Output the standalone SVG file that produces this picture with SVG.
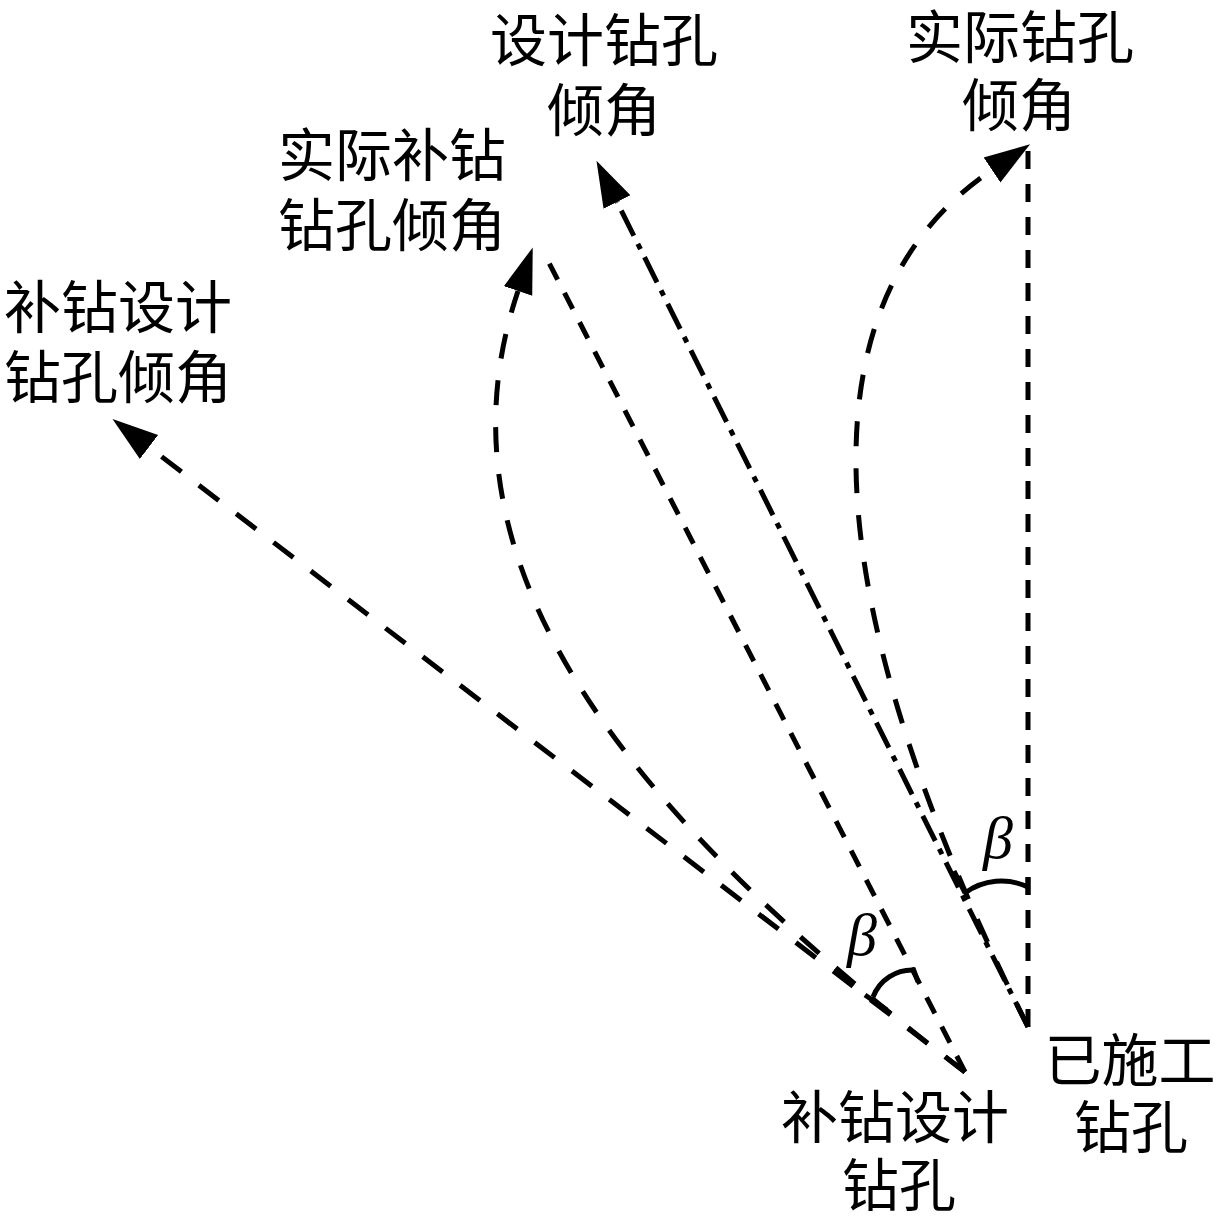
<svg xmlns="http://www.w3.org/2000/svg" width="1218" height="1216" viewBox="0 0 1218 1216">
<defs>
<style>
.ln{fill:none;stroke:#000;stroke-width:5;stroke-linecap:butt}
.d1{stroke-dasharray:25 22}
.d2{stroke-dasharray:18 15}
.dd{stroke-dasharray:28 9 6 9}
.arc{fill:none;stroke:#000;stroke-width:5}
.lbl{font-family:"Liberation Serif","Noto Sans CJK SC",serif;font-size:57px;fill:#000;text-anchor:middle}
.beta{font-family:"Liberation Serif",serif;font-style:italic;font-size:60px;fill:#000;text-anchor:middle}
</style>
<marker id="ah" markerUnits="userSpaceOnUse" markerWidth="50" markerHeight="34" refX="0" refY="15" orient="auto" viewBox="0 0 50 30">
<path d="M0,0 L46,15 L0,30 Z" fill="#000"/>
</marker>
</defs>
<rect width="1218" height="1216" fill="#fff"/>
<g id="connectors">
<line class="ln d2" x1="1028" y1="1027" x2="1028" y2="145"/>
<line class="ln dd" x1="1028" y1="1027" x2="617" y2="202" marker-end="url(#ah)"/>
<path class="ln d1" d="M1028,1027 C805,579.5 805,296.5 992,170" marker-end="url(#ah)"/>
<line class="ln d1" x1="965" y1="1072" x2="149" y2="447" marker-end="url(#ah)"/>
<line class="ln d2" x1="965" y1="1072" x2="545" y2="255"/>
<path class="ln d1" d="M965,1072 C647,829 422,575 518,291" marker-end="url(#ah)"/>
<path class="arc" d="M965,893 A62,62 0 0 1 1028,887"/>
<path class="arc" d="M954,871 L965,893 M1028,877 L1028,895"/>
<path class="arc" d="M873,997 A42,42 0 0 1 915,970"/>
<path class="arc" d="M865,995 L887,1010 M913,968 L918,982"/>
</g>
<g id="beta-right"><text class="beta" x="998" y="858">β</text></g>
<g id="beta-left"><text class="beta" x="862" y="955">β</text></g>
<g id="node-design"><text class="lbl" x="604" y="61">设计钻孔</text><text class="lbl" x="604" y="131">倾角</text></g>
<g id="node-actual"><text class="lbl" x="1020" y="58">实际钻孔</text><text class="lbl" x="1019" y="126">倾角</text></g>
<g id="node-actual-supp"><text class="lbl" x="392" y="176">实际补钻</text><text class="lbl" x="392" y="246">钻孔倾角</text></g>
<g id="node-supp-design-angle"><text class="lbl" x="118" y="328">补钻设计</text><text class="lbl" x="118" y="398">钻孔倾角</text></g>
<g id="node-built"><text class="lbl" x="1130" y="1081">已施工</text><text class="lbl" x="1131" y="1148">钻孔</text></g>
<g id="node-supp-design"><text class="lbl" x="895" y="1138">补钻设计</text><text class="lbl" x="899" y="1206">钻孔</text></g>
</svg>
